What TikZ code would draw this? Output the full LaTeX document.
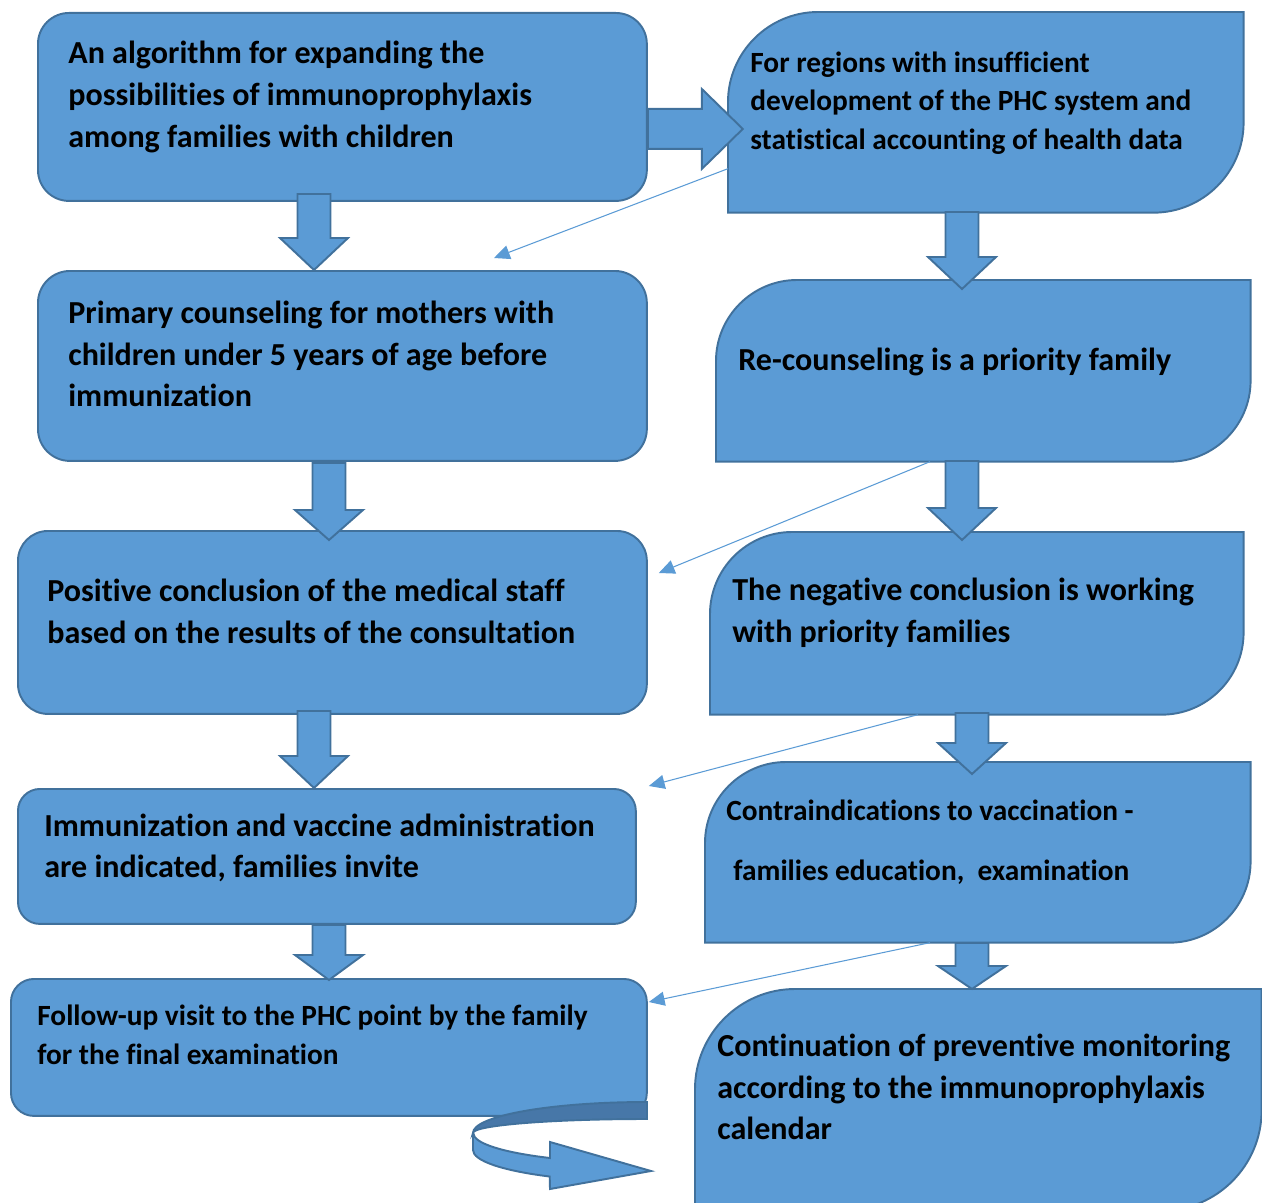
\documentclass[tikz,border=0pt]{standalone}
\usepackage{fontspec}
\setmainfont{Carlito}[RawFeature={-liga,-clig}]
\usetikzlibrary{arrows.meta,calc}
\definecolor{boxblue}{HTML}{5B9BD5}
\definecolor{boxline}{HTML}{41719C}
\definecolor{backband}{HTML}{4777A8}
\tikzset{
  lbox/.style={draw=boxline, fill=boxblue, line width=1.1pt, anchor=north west, inner sep=0pt},
  rbox/.style={anchor=north west, inner sep=0pt},
  rshape/.style={draw=boxline, fill=boxblue, line width=1.1pt},
  txt/.style={anchor=west, align=left, inner sep=0pt, font=\bfseries\fontsize{18.25}{23.8}\selectfont},
  smalltxt/.style={txt, font=\bfseries\fontsize{16.7}{22}\selectfont},
  blockarrow/.style={draw=boxline, fill=boxblue, line width=1.1pt},
  thinarrow/.style={boxblue, line width=0.6pt, -{Triangle[length=9pt,width=8pt]}},
}
% tip, head length, shaft length
\newcommand{\blockdown}[3]{\draw[blockarrow] #1 -- ++(34,-#2) -- ++(-17.5,0) -- ++(0,-#3) -- ++(-33,0) -- ++(0,#3) -- ++(-17.5,0) -- cycle;}

\begin{document}
\begin{tikzpicture}[x=0.02cm, y=-0.02cm]
\useasboundingbox (0,0) rectangle (1262,1203);
\clip (0,0) rectangle (1262,1203);

% left column
\node[lbox, rounded corners=0.62cm, minimum width=12.18cm, minimum height=3.76cm] (l1) at (37,12) {};
\node[lbox, rounded corners=0.64cm, minimum width=12.18cm, minimum height=3.8cm] (l2) at (37,270) {};
\node[lbox, rounded corners=0.6cm, minimum width=12.58cm, minimum height=3.66cm] (l3) at (17,530) {};
\node[lbox, rounded corners=0.44cm, minimum width=12.36cm, minimum height=2.7cm] (l4) at (17,788) {};
\node[lbox, rounded corners=0.46cm, minimum width=12.72cm, minimum height=2.74cm] (l5) at (10,978) {};

% right column
\node[rbox, minimum width=10.3cm, minimum height=4cm] (r1) at (728,12) {};
\node[rbox, minimum width=10.68cm, minimum height=3.62cm] (r2) at (716,280) {};
\node[rbox, minimum width=10.66cm, minimum height=3.64cm] (r3) at (710,532) {};
\node[rbox, minimum width=10.9cm, minimum height=3.6cm] (r4) at (705,762) {};
\node[rbox, minimum width=11.32cm, minimum height=4.42cm] (r5) at (695,989) {};
\foreach \n/\r in {r1/90, r2/81, r3/82, r4/81, r5/100}
  \draw[rshape] (\n.south west) -- ($(\n.north west)+(0,\r)$)
    .. controls ($(\n.north west)+(0,0.45*\r)$) and ($(\n.north west)+(0.45*\r,0)$) .. ($(\n.north west)+(\r,0)$)
    -- (\n.north east) -- ($(\n.south east)+(0,-\r)$)
    .. controls ($(\n.south east)+(0,-0.45*\r)$) and ($(\n.south east)+(-0.45*\r,0)$) .. ($(\n.south east)+(-\r,0)$)
    -- cycle;

% block arrows
\draw[blockarrow] ($(l1.east)+(0,2)$) -- ++(54,0) -- ++(0,-20) -- ++(41,40) -- ++(-41,40) -- ++(0,-20) -- ++(-54,0) -- cycle;
\blockdown{(l2.north -| 314,0)}{32}{44}
\blockdown{($(l3.north -| 329,0)+(0,10)$)}{30}{47}
\blockdown{(l4.north -| 314,0)}{32}{45}
\blockdown{($(l5.north -| 329,0)+(0,2)$)}{25}{30}
\blockdown{($(r2.north -| 962,0)+(0,9)$)}{32}{45}
\blockdown{($(r3.north -| 962,0)+(0,8)$)}{32}{47}
\blockdown{($(r4.north -| 972,0)+(0,12)$)}{31}{30}
\blockdown{(r5.north -| 972,0)}{23}{23}

% thin arrows
\draw[thinarrow] ($(r1.south west)+(0,-44)$) -- ($(l2.north west)+(457,-12)$);
\draw[thinarrow] ($(r2.south west)+(214,0)$) -- ($(l3.north east)+(11,43)$);
\draw[thinarrow] ($(r3.south west)+(208,0)$) -- ($(l4.north east)+(12,-2)$);
\draw[thinarrow] ($(r4.south west)+(225,0)$) -- ($(l5.north east)+(1,24)$);

% turn-back arrow under the last box
\draw[blockarrow, fill=backband] (647,1102) arc[start angle=-90, end angle=-180, x radius=174, y radius=31]
  arc[start angle=180, end angle=270, x radius=174, y radius=14] -- cycle;
\draw[blockarrow] (473,1133) -- (473,1150) arc[start angle=180, end angle=124, x radius=174, y radius=32]
  -- (550,1189) -- (651,1171) -- (550,1142) -- (550,1158)
  arc[start angle=124, end angle=180, x radius=174, y radius=30] -- cycle;

% texts
\node[txt] (t1) at (68,97) {An algorithm for expanding the\\possibilities of immunoprophylaxis\\among families with children};
\node[txt] (t2) at (68,354) {Primary counseling for mothers with\\children under 5 years of age before\\immunization};
\node[txt] (t3) at (47,611) {Positive conclusion of the medical staff\\based on the results of the consultation};
\node[txt] (t4) at (44,848) {Immunization and vaccine administration\\are indicated, families invite};
\node[smalltxt] (t5) at (37,1035) {Follow-up visit to the PHC point by the family\\for the final examination};
\node[smalltxt] (s1) at (750,103) {For regions with insufficient\\development of the PHC system and\\statistical accounting of health data};
\node[txt] (s2) at (738,362) {Re-counseling is a priority family};
\node[txt] (s3) at (732,613) {The negative conclusion is working\\with priority families};
\node[smalltxt] (s4) at (726,842) {Contraindications to vaccination -\\[12pt]\hspace{0.14cm}families education,\ \ examination};
\node[txt] (s5) at (717,1087) {Continuation of preventive monitoring\\according to the immunoprophylaxis\\calendar};
\end{tikzpicture}
\end{document}
